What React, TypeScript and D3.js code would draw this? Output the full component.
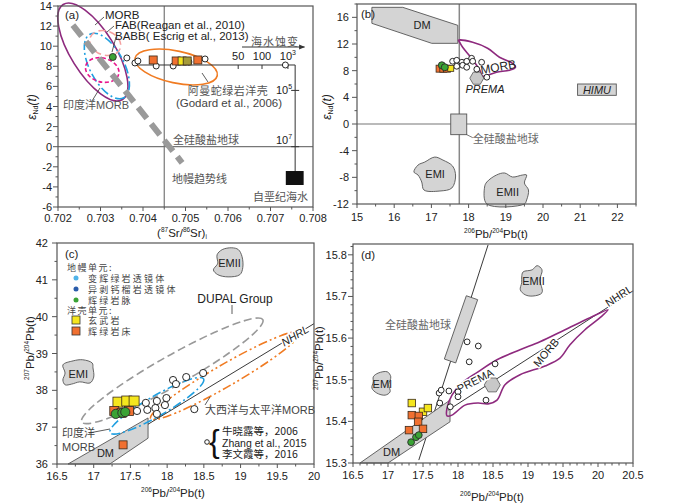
import React from 'react';
import * as d3 from 'd3';

type P = [number, number];

const FONT = 'Arial, "Liberation Sans", Helvetica, sans-serif';
const CJK = '"Noto Sans CJK SC", "Noto Sans", sans-serif';

// ---------- panel (a): eNd(t) vs (87Sr/86Sr)i ----------
const aXTicks = [0.702, 0.703, 0.704, 0.705, 0.706, 0.707, 0.708];
const aYTicks = [-6, -4, -2, 0, 2, 4, 6, 8, 10, 12, 14];
const aCircles: P[] = [[0.70362, 8.83], [0.70381, 8.33], [0.70388, 8.53], [0.70431, 8.03], [0.70471, 8.03], [0.70508, 8.43], [0.70546, 8.73]];
const aOrange: P[] = [[0.70424, 8.63], [0.70478, 8.53], [0.70529, 8.63]];
const aYellow: P[] = [[0.70492, 8.53]];
const aOlive: P[] = [[0.70504, 8.53]];
const aGreen: P[] = [[0.70329, 8.93]];
const aMantleArray: P[] = [[0.70235, 12.1], [0.70492, -1.6]];
const aSeawaterLine: P[] = [[0.7038, 8.13], [0.70758, 8.13], [0.70758, -3.1]];
const aSeaTicksH = [{ v: 0.70624, l: '50' }, { v: 0.7068, l: '100' }, { v: 0.70741, l: '10', s: '3' }];
const aSeaTicksV = [{ v: 5.6, l: '10', s: '5' }, { v: 0, l: '10', s: '7' }];
const aSeaEnd: P = [0.70735, 8.13];
const aCretaceousSw = { x: [0.70736, 0.70778], y: [-2.42, -3.81] };
const aMorbC: P = [0.70282, 9.42];
const aIndianC: P = [0.70315, 8.03];
const aBabbC: P = [0.70304, 7.63];
const aFabC: P = [0.70311, 10.32];
const aOmanC: P = [0.70478, 7.93];

// ---------- panel (b): eNd(t) vs 206Pb/204Pb(t) ----------
const bXTicks = [15, 16, 17, 18, 19, 20, 21, 22];
const bYTicks = [-12, -8, -4, 0, 4, 8, 12, 16];
const bCircles: P[] = [[17.57, 9.41], [17.68, 9.56], [17.82, 9.26], [17.84, 8.81], [17.68, 8.66], [17.95, 9.41], [17.95, 8.51], [18.08, 9.86], [18.11, 9.41], [18.35, 9.26], [18.22, 8.22], [18.49, 7.02]];
const bOrange: P[] = [[17.22, 8.3], [17.32, 8.3], [17.42, 8.3]];
const bYellow: P[] = [[17.52, 8.35]];
const bGreen: P[] = [[17.28, 8.81], [17.36, 8.51]];
const bDM: P[] = [[15.4, 17.5], [16.23, 17.5], [17.71, 14.8], [17.71, 12.1], [17.01, 12.1], [15.4, 15.1]];
const bMorb: P[] = [[17.73, 12.56], [18.11, 12.26], [18.51, 11.36], [18.83, 10.01], [19.18, 9.11], [19.26, 8.51], [19.1, 8.07], [18.75, 7.77], [18.51, 7.32], [18.38, 7.17], [18.3, 8.07], [18.08, 9.86], [17.84, 11.51], [17.76, 12.26]];
const bEMI: P[] = [[16.82, -5.71], [17.09, -4.96], [17.31, -5.41], [17.57, -6.31], [17.65, -7.8], [17.55, -9.6], [17.23, -10.05], [16.8, -9.9], [16.74, -8.7], [16.64, -7.65], [16.53, -7.2], [16.64, -6.16]];
const bEMII: P[] = [[18.75, -7.65], [18.97, -7.35], [19.18, -7.95], [19.45, -7.65], [19.56, -7.65], [19.5, -8.85], [19.61, -9.9], [19.56, -11.4], [19.5, -12], [18.49, -12], [18.43, -9.45], [18.49, -8.7]];
const bPrema: P = [18.22, 6.87];
const bHimu = { x: [20.93, 21.97], y: [4.3, 6.0] };
const bBse = { x: [17.52, 17.95], y: [-1.6, 1.5] };

// ---------- panel (c): 208Pb/204Pb vs 206Pb/204Pb ----------
const cXTicks = [16.5, 17, 17.5, 18, 18.5, 19, 19.5, 20];
const cYTicks = [36, 37, 38, 39, 40, 41, 42];
const cCircles: P[] = [[17.59, 37.44], [17.71, 37.66], [17.73, 37.47], [17.86, 37.71], [17.84, 37.52], [17.86, 37.36], [17.99, 37.79], [17.97, 37.6], [18.08, 38.28], [18.12, 38.17], [18.26, 38.36], [18.49, 38.47], [18.37, 37.49]];
const cYellow: P[] = [[17.33, 37.68], [17.45, 37.71], [17.55, 37.71]];
const cOrange: P[] = [[17.28, 37.44], [17.48, 37.44], [17.38, 37.39], [17.4, 36.52]];
const cGreen: P[] = [[17.3, 37.36], [17.39, 37.39], [17.43, 37.41]];
const cDM: P[] = [[16.65, 36], [17.22, 36], [17.74, 36.7], [17.74, 37.25]];
const cNHRL: P[] = [[17.74, 37.08], [20, 39.81]];
const cEMI: P[] = [[16.58, 38.69], [16.61, 38.47], [16.58, 38.28], [16.61, 38.15], [16.7, 38.17], [16.81, 38.23], [16.95, 38.2], [17.0, 38.36], [16.99, 38.61], [16.98, 38.74], [16.85, 38.83], [16.72, 38.8]];
const cEMII: P[] = [[18.69, 41.46], [18.68, 41.68], [18.75, 41.82], [18.88, 41.87], [18.97, 41.82], [19.02, 41.63], [19.03, 41.33], [18.99, 41.14], [18.83, 41.08], [18.69, 41.14], [18.63, 41.27], [18.68, 41.41]];
const cDupalC: P = [18.07, 38.53];
const cAtlPacC: P = [18.79, 38.4];
const cIndianC: P = [17.86, 37.58];
const cLegendMantle = [{ label: '变辉绿岩透镜体', color: '#4fb3e8' }, { label: '异剥钙榴岩透镜体', color: '#2a5caa' }, { label: '辉绿岩脉', color: '#3aa335' }];
const cLegendCrust = [{ label: '玄武岩', color: '#f5e61e' }, { label: '辉绿岩床', color: '#f07030' }];
const cRefs = ['牛晓露等，2006', 'Zhang et al., 2015', '李文霞等，2016'];

// ---------- panel (d): 207Pb/204Pb vs 206Pb/204Pb ----------
const dXTicks = [16.5, 17, 17.5, 18, 18.5, 19, 19.5, 20, 20.5];
const dYTicks = [15.3, 15.4, 15.5, 15.6, 15.7, 15.8];
const dCircles: P[] = [[18.13, 15.591], [18.29, 15.581], [18.16, 15.543], [17.73, 15.468], [17.76, 15.475], [17.74, 15.444], [17.87, 15.473], [18.0, 15.471], [18.0, 15.459], [17.89, 15.435], [18.4, 15.451], [18.53, 15.538]];
const dYellow: P[] = [[17.34, 15.444], [17.5, 15.423], [17.57, 15.432]];
const dOrange: P[] = [[17.34, 15.415], [17.44, 15.413], [17.43, 15.399], [17.3, 15.379], [17.5, 15.382]];
const dGreen: P[] = [[17.33, 15.35], [17.4, 15.362], [17.44, 15.367]];
const dDM: P[] = [[16.6, 15.3], [17.0, 15.3], [17.886, 15.399], [17.886, 15.451]];
const dNHRL: P[] = [[17.86, 15.427], [20.5, 15.713]];
const dGeochron: P[] = [[18.43, 15.824], [17.44, 15.307]];
const dBseBar: P[] = [[18.2, 15.697], [17.886, 15.545]];
const dMorb: P[] = [[17.843, 15.432], [17.914, 15.463], [18.057, 15.492], [18.286, 15.519], [18.557, 15.548], [18.886, 15.572], [19.171, 15.591], [19.529, 15.62], [19.886, 15.649], [20.143, 15.668], [20.029, 15.649], [19.814, 15.62], [19.6, 15.584], [19.457, 15.552], [19.243, 15.533], [18.886, 15.512], [18.671, 15.488], [18.557, 15.451], [18.429, 15.442], [18.286, 15.444], [18.1, 15.439], [17.914, 15.415], [17.843, 15.413]];
const dEMI: P[] = [[16.79, 15.507], [16.86, 15.516], [16.99, 15.519], [17.04, 15.507], [17.01, 15.488], [17.03, 15.471], [16.96, 15.463], [16.84, 15.468], [16.77, 15.48], [16.79, 15.495]];
const dEMII: P[] = [[18.91, 15.747], [18.93, 15.759], [19.06, 15.764], [19.13, 15.774], [19.2, 15.764], [19.17, 15.74], [19.2, 15.709], [19.07, 15.701], [18.96, 15.704], [18.89, 15.716], [18.91, 15.733]];
const dPrema: P = [18.49, 15.4875];

// scales
const ax = d3.scaleLinear().domain([0.702, 0.708]).range([58, 313]);
const ay = d3.scaleLinear().domain([-6, 14]).range([207, 6]);
const bx = d3.scaleLinear().domain([15, 22.5]).range([357, 636]);
const by = d3.scaleLinear().domain([-12, 18]).range([204, 4]);
const cx = d3.scaleLinear().domain([16.5, 20]).range([57, 314]);
const cy = d3.scaleLinear().domain([36, 42]).range([464, 243]);
const dx = d3.scaleLinear().domain([16.5, 20.5]).range([353, 633]);
const dy = d3.scaleLinear().domain([15.3, 15.826]).range([463, 244]);

const ORANGE = '#f07030';
const YELLOW = '#f5e61e';
const GREEN = '#3aa335';
const PURPLE = '#8e2a7e';
const BLUE = '#1f9fe0';
const FIELD = '#d4d4d4';
const EDGE = '#555';

const minors = (dom: number[], step: number, majors: number[]) =>
  d3.range(dom[0], dom[1] + step / 2, step).filter(v => !majors.some(m => Math.abs(m - v) < step / 10));

function Axes({ x, y, xTicks, yTicks, xStep, yStep, fmtX, fmtY, xdy, ydx }: any) {
  const [x0, x1] = x.range();
  const [y0, y1] = y.range();
  const xm = minors(x.domain(), xStep, xTicks);
  const ym = minors(y.domain(), yStep, yTicks);
  return (
    <g fontFamily={FONT} fontSize={11} fill="#222">
      {xTicks.map((t: number) => (
        <g key={'xt' + t}>
          <line x1={x(t)} x2={x(t)} y1={y0} y2={y0 + 4} stroke={EDGE} />
          <text x={x(t)} y={y0 + xdy} textAnchor="middle">{fmtX(t)}</text>
        </g>
      ))}
      {xm.map((t: number) => <line key={'xm' + t} x1={x(t)} x2={x(t)} y1={y0} y2={y0 + 2.5} stroke={EDGE} />)}
      {yTicks.map((t: number) => (
        <g key={'yt' + t}>
          <line x1={x0 - 5} x2={x0} y1={y(t)} y2={y(t)} stroke={EDGE} />
          <text x={x0 - ydx} y={y(t) + 4} textAnchor="end">{fmtY(t)}</text>
        </g>
      ))}
      {ym.map((t: number) => <line key={'ym' + t} x1={x0 - 2.5} x2={x0} y1={y(t)} y2={y(t)} stroke={EDGE} />)}
      <rect x={x0} y={y1} width={x1 - x0} height={y0 - y1} fill="none" stroke={EDGE} strokeWidth={1.2} />
    </g>
  );
}

const Sq = ({ p, sx, sy, s, fill }: any) => (
  <rect x={sx(p[0]) - s / 2} y={sy(p[1]) - s / 2} width={s} height={s} fill={fill} stroke="#3a2a1a" strokeWidth={0.8} />
);
const Dot = ({ p, sx, sy, r, fill }: any) => (
  <circle cx={sx(p[0])} cy={sy(p[1])} r={r} fill={fill} stroke={fill === '#fff' ? '#111' : '#2a2a2a'} strokeWidth={0.9} />
);

const blob = (pts: P[], sx: any, sy: any) =>
  d3.line<P>().x(p => sx(p[0])).y(p => sy(p[1])).curve(d3.curveCatmullRomClosed.alpha(0.5))(pts) || '';
const poly = (pts: P[], sx: any, sy: any) =>
  d3.line<P>().x(p => sx(p[0])).y(p => sy(p[1])).curve(d3.curveLinearClosed)(pts) || '';
const path = (pts: P[], sx: any, sy: any) =>
  d3.line<P>().x(p => sx(p[0])).y(p => sy(p[1]))(pts) || '';
const hexagon = (c: P, sx: any, sy: any, r: number) => {
  const X = sx(c[0]), Y = sy(c[1]);
  return 'M' + d3.range(6).map(i => [X + r * Math.cos((Math.PI / 3) * i), Y + r * Math.sin((Math.PI / 3) * i)].join(',')).join('L') + 'Z';
};
const Ell = ({ c, sx, sy, rx, ry, angle, ...rest }: any) => {
  const X = sx(c[0]), Y = sy(c[1]);
  return <ellipse cx={X} cy={Y} rx={rx} ry={ry} transform={`rotate(${angle} ${X} ${Y})`} fill="none" {...rest} />;
};

const halo = { paintOrder: 'stroke' as const, stroke: '#fff', strokeWidth: 3, strokeLinejoin: 'round' as const };

function PanelA() {
  const fmt = d3.format('.3f');
  return (
    <g>
      <line x1={ax(0.7045)} x2={ax(0.7045)} y1={ay(14)} y2={ay(-6)} stroke="#777" strokeWidth={1.2} />
      <line x1={ax(0.702)} x2={ax(0.708)} y1={ay(0)} y2={ay(0)} stroke="#777" strokeWidth={1.2} />
      <Ell c={aMorbC} sx={ax} sy={ay} rx={56} ry={22} angle={58} stroke={PURPLE} strokeWidth={1.6} />
      <Ell c={aIndianC} sx={ax} sy={ay} rx={36} ry={17} angle={62} stroke={BLUE} strokeWidth={1.6} strokeDasharray="9,3,2,3" />
      <Ell c={aBabbC} sx={ax} sy={ay} rx={17} ry={12} angle={15} stroke="#e8158c" strokeWidth={1.6} strokeDasharray="4,2.5" />
      <Ell c={aFabC} sx={ax} sy={ay} rx={16} ry={12} angle={20} stroke="#f4a0a0" strokeWidth={1.6} strokeDasharray="7,4" />
      <path d={path(aMantleArray, ax, ay)} stroke="#9a9a9a" strokeWidth={6} strokeDasharray="14,7" fill="none" />
      <Ell c={aOmanC} sx={ax} sy={ay} rx={42} ry={16} angle={12} stroke="#f07b22" strokeWidth={1.6} />
      {/* seawater alteration trend */}
      <path d={path(aSeawaterLine, ax, ay)} stroke="#333" strokeWidth={1} fill="none" />
      {aSeaTicksH.map(t => (
        <g key={t.l + (t.s || '')}>
          <line x1={ax(t.v)} x2={ax(t.v)} y1={ay(8.13)} y2={ay(8.13) + 4} stroke="#333" />
          <text x={ax(t.v)} y={ay(8.13) - 5} textAnchor="middle" fontFamily={FONT} fontSize={11} fill="#222">
            {t.l}{t.s && <tspan fontSize={7} dy={-5}>{t.s}</tspan>}
          </text>
        </g>
      ))}
      {aSeaTicksV.map(t => (
        <g key={'v' + t.s}>
          <line x1={ax(0.70758) - 4} x2={ax(0.70758) + 4} y1={ay(t.v)} y2={ay(t.v)} stroke="#333" />
          <text x={ax(0.70758) - 3} y={ay(t.v) + (t.v === 0 ? -3 : 4)} textAnchor="end" fontFamily={FONT} fontSize={11} fill="#222">
            {t.l}<tspan fontSize={7} dy={-5}>{t.s}</tspan>
          </text>
        </g>
      ))}
      <Dot p={aSeaEnd} sx={ax} sy={ay} r={3} fill="#fff" />
      <rect x={ax(aCretaceousSw.x[0])} y={ay(aCretaceousSw.y[0])} width={ax(aCretaceousSw.x[1]) - ax(aCretaceousSw.x[0])} height={ay(aCretaceousSw.y[1]) - ay(aCretaceousSw.y[0])} fill="#111" />
      {/* arrow */}
      <defs>
        <marker id="arr" viewBox="0 0 10 10" refX="9" refY="5" markerWidth="6" markerHeight="6" orient="auto">
          <path d="M0,1 L10,5 L0,9 Z" fill="#333" />
        </marker>
      </defs>
      <line x1={ax(0.70633)} x2={ax(0.7078)} y1={ay(9.92)} y2={ay(9.92)} stroke="#333" markerEnd="url(#arr)" />
      <text x={275} y={46} textAnchor="middle" fontFamily={CJK} fontSize={11} fill="#555" letterSpacing={1}>海水蚀变</text>
      {aCircles.map((p, i) => <Dot key={'ac' + i} p={p} sx={ax} sy={ay} r={3} fill="#fff" />)}
      {aOrange.map((p, i) => <Sq key={'ao' + i} p={p} sx={ax} sy={ay} s={8} fill={ORANGE} />)}
      {aYellow.map((p, i) => <Sq key={'ay' + i} p={p} sx={ax} sy={ay} s={8} fill={YELLOW} />)}
      {aOlive.map((p, i) => <Sq key={'al' + i} p={p} sx={ax} sy={ay} s={8} fill="#a59a3a" />)}
      {aGreen.map((p, i) => <Dot key={'ag' + i} p={p} sx={ax} sy={ay} r={3.5} fill={GREEN} />)}
      {/* labels */}
      <g fontFamily={FONT} fontSize={11.5} fill="#222">
        <text x={65} y={19}>(a)</text>
        <text x={105} y={19}>MORB</text>
        <text x={115} y={29}>FAB(Reagan et al., 2010)</text>
        <text x={115} y={40}>BABB( Escrig et al., 2013)</text>
        <text x={229} y={107} textAnchor="middle" fill="#444">(Godard et al., 2006)</text>
      </g>
      <g stroke="#333" strokeWidth={0.8}>
        <line x1={104} y1={17} x2={95} y2={25} />
        <line x1={114} y1={26} x2={107} y2={32} />
        <line x1={116} y1={37} x2={112} y2={52} />
        <line x1={92} y1={101} x2={100} y2={88} />
        <line x1={202} y1={73} x2={208} y2={82} />
      </g>
      <g fontFamily={CJK} fontSize={11} fill="#555">
        <text x={63} y={109}>印度洋<tspan fontFamily={FONT}>MORB</tspan></text>
        <text x={228} y={95} textAnchor="middle" letterSpacing={0.5}>阿曼蛇绿岩洋壳</text>
        <text x={173} y={144}>全硅酸盐地球</text>
        <text x={172} y={183}>地幔趋势线</text>
        <text x={308} y={201} textAnchor="end">自垩纪海水</text>
      </g>
      <Axes x={ax} y={ay} xTicks={aXTicks} yTicks={aYTicks} xStep={0.0005} yStep={1} fmtX={fmt} fmtY={(v: number) => String(v)} xdy={15} ydx={6} />
      <text x={182} y={237} textAnchor="middle" fontFamily={FONT} fontSize={11.5} fill="#222">
        (<tspan fontSize={6.5} dy={-5}>87</tspan><tspan dy={5}>Sr/</tspan><tspan fontSize={6.5} dy={-5}>86</tspan><tspan dy={5}>Sr)</tspan><tspan fontSize={6.5} dy={2}>i</tspan>
      </text>
      <text transform="translate(36,107) rotate(-90)" textAnchor="middle" fontFamily={FONT} fontSize={12} fill="#222" fontStyle="italic">
        ε<tspan fontSize={7} dy={2} fontStyle="normal">Nd</tspan><tspan dy={-2}>(t)</tspan>
      </text>
    </g>
  );
}

function PanelB() {
  return (
    <g>
      <line x1={bx(17.75)} x2={bx(17.75)} y1={by(18)} y2={by(-12)} stroke="#888" strokeWidth={1.5} />
      <line x1={bx(15)} x2={bx(22.5)} y1={by(0)} y2={by(0)} stroke="#777" strokeWidth={1.2} />
      <path d={poly(bDM, bx, by)} fill={FIELD} stroke={EDGE} strokeWidth={0.9} />
      <text x={bx(16.75)} y={by(14.8) + 4} textAnchor="middle" fontFamily={FONT} fontSize={11} fill="#222">DM</text>
      <path d={blob(bMorb, bx, by)} fill="none" stroke={PURPLE} strokeWidth={1.6} />
      <path d={hexagon(bPrema, bx, by, 7)} fill="#c8c8c8" stroke={EDGE} strokeWidth={0.8} />
      <rect x={bx(bBse.x[0])} y={by(bBse.y[1])} width={bx(bBse.x[1]) - bx(bBse.x[0])} height={by(bBse.y[0]) - by(bBse.y[1])} fill={FIELD} stroke={EDGE} strokeWidth={0.9} />
      <line x1={bx(bBse.x[1])} y1={by(bBse.y[0])} x2={bx(bBse.x[1]) + 6} y2={by(bBse.y[0]) + 3} stroke="#555" strokeWidth={0.8} />
      <text x={bx(bBse.x[1]) + 6} y={by(bBse.y[0]) + 8} fontFamily={CJK} fontSize={11} fill="#666">全硅酸盐地球</text>
      <rect x={bx(bHimu.x[0])} y={by(bHimu.y[1])} width={bx(bHimu.x[1]) - bx(bHimu.x[0])} height={by(bHimu.y[0]) - by(bHimu.y[1])} fill={FIELD} stroke={EDGE} strokeWidth={0.9} />
      <text x={(bx(bHimu.x[0]) + bx(bHimu.x[1])) / 2} y={by(5.15) + 4} textAnchor="middle" fontFamily={FONT} fontSize={11} fontStyle="italic" fill="#222">HIMU</text>
      <path d={blob(bEMI, bx, by)} fill={FIELD} stroke={EDGE} strokeWidth={0.9} />
      <text x={bx(17.1)} y={by(-7.5) + 4} textAnchor="middle" fontFamily={FONT} fontSize={11} fill="#222">EMI</text>
      <path d={blob(bEMII, bx, by)} fill={FIELD} stroke={EDGE} strokeWidth={0.9} />
      <text x={bx(19.05)} y={by(-10.2) + 4} textAnchor="middle" fontFamily={FONT} fontSize={11} fill="#222">EMII</text>
      {bCircles.map((p, i) => <Dot key={'bc' + i} p={p} sx={bx} sy={by} r={2.9} fill="#fff" />)}
      {bOrange.map((p, i) => <Sq key={'bo' + i} p={p} sx={bx} sy={by} s={7} fill={ORANGE} />)}
      {bYellow.map((p, i) => <Sq key={'by' + i} p={p} sx={bx} sy={by} s={6} fill={YELLOW} />)}
      {bGreen.map((p, i) => <Dot key={'bg' + i} p={p} sx={bx} sy={by} r={3.5} fill={GREEN} />)}
      <text transform={`translate(499,71) rotate(-10)`} textAnchor="middle" fontFamily={FONT} fontSize={12} fill="#222">MORB</text>
      <text x={485} y={93} textAnchor="middle" fontFamily={FONT} fontSize={11} fontStyle="italic" fill="#222">PREMA</text>
      <text x={361} y={18} fontFamily={FONT} fontSize={11.5} fill="#222">(b)</text>
      <Axes x={bx} y={by} xTicks={bXTicks} yTicks={bYTicks} xStep={0.5} yStep={2} fmtX={(v: number) => String(v)} fmtY={(v: number) => String(v)} xdy={17} ydx={8} />
      <text x={496} y={238} textAnchor="middle" fontFamily={FONT} fontSize={11.5} fill="#222">
        <tspan fontSize={6.5} dy={-5}>206</tspan><tspan dy={5}>Pb/</tspan><tspan fontSize={6.5} dy={-5}>204</tspan><tspan dy={5}>Pb(t)</tspan>
      </text>
      <text transform="translate(331,107) rotate(-90)" textAnchor="middle" fontFamily={FONT} fontSize={12} fill="#222" fontStyle="italic">
        ε<tspan fontSize={7} dy={2} fontStyle="normal">Nd</tspan><tspan dy={-2}>(t)</tspan>
      </text>
    </g>
  );
}

function PanelC() {
  const y0 = 267;
  return (
    <g>
      <path d={blob(cEMI, cx, cy)} fill={FIELD} stroke={EDGE} strokeWidth={0.9} />
      <text x={cx(16.79)} y={cy(38.45) + 4} textAnchor="middle" fontFamily={FONT} fontSize={11} fill="#222">EMI</text>
      <path d={blob(cEMII, cx, cy)} fill={FIELD} stroke={EDGE} strokeWidth={0.9} />
      <text x={cx(18.85)} y={cy(41.45) + 4} textAnchor="middle" fontFamily={FONT} fontSize={11} fill="#222">EMII</text>
      <path d={poly(cDM, cx, cy)} fill={FIELD} stroke={EDGE} strokeWidth={0.9} />
      <text x={cx(17.16)} y={cy(36.3) + 4} textAnchor="middle" fontFamily={FONT} fontSize={11} fill="#222">DM</text>
      <Ell c={cDupalC} sx={cx} sy={cy} rx={104} ry={15} angle={-29.5} stroke="#999" strokeWidth={1.6} strokeDasharray="8,4" />
      <Ell c={cAtlPacC} sx={cx} sy={cy} rx={86} ry={11} angle={-30} stroke="#f07b22" strokeWidth={1.6} strokeDasharray="9,3,2,3,2,3" />
      <Ell c={cIndianC} sx={cx} sy={cy} rx={54} ry={10} angle={-30} stroke={BLUE} strokeWidth={1.6} strokeDasharray="9,3,2,3" />
      <path d={path(cNHRL, cx, cy)} stroke="#222" strokeWidth={0.9} fill="none" />
      <text transform="translate(297,339) rotate(-31)" textAnchor="middle" fontFamily={FONT} fontSize={11} fontStyle="italic" fill="#222" style={halo}>NHRL</text>
      {cCircles.map((p, i) => <Dot key={'cc' + i} p={p} sx={cx} sy={cy} r={3.6} fill="#fff" />)}
      {cYellow.map((p, i) => <Sq key={'cy' + i} p={p} sx={cx} sy={cy} s={10} fill={YELLOW} />)}
      {cOrange.map((p, i) => <Sq key={'co' + i} p={p} sx={cx} sy={cy} s={i === 3 ? 8 : 9} fill={ORANGE} />)}
      {cGreen.map((p, i) => <Dot key={'cg' + i} p={p} sx={cx} sy={cy} r={4.6} fill={GREEN} />)}
      {/* legend */}
      <g fontFamily={CJK} fontSize={9} fill="#444">
        <text x={65} y={258} fontFamily={FONT} fontSize={11.5} fill="#222">(c)</text>
        <text x={67} y={y0 + 3.5} letterSpacing={1.5}>地幔单元:</text>
        {cLegendMantle.map((d, i) => (
          <g key={d.label}>
            <circle cx={76} cy={y0 + 11 * (i + 1)} r={2.5} fill={d.color} />
            <text x={88} y={y0 + 11 * (i + 1) + 3.5} letterSpacing={2.2}>{d.label}</text>
          </g>
        ))}
        <text x={67} y={313.5} letterSpacing={1.5}>洋壳单元:</text>
        {cLegendCrust.map((d, i) => (
          <g key={d.label}>
            <rect x={72} y={316 + 11 * i} width={8} height={8} fill={d.color} stroke="#333" strokeWidth={0.8} />
            <text x={88} y={323.5 + 11 * i} letterSpacing={2.2}>{d.label}</text>
          </g>
        ))}
      </g>
      <g fontFamily={CJK} fontSize={11} fill="#444">
        <text x={62} y={437}>印度洋</text>
        <text x={62} y={451} fontFamily={FONT}>MORB</text>
        <text x={205} y={414}>大西洋与太平洋<tspan fontFamily={FONT}>MORB</tspan></text>
      </g>
      <g stroke="#333" strokeWidth={0.8}>
        <line x1={89} y1={433} x2={110} y2={429} />
        <line x1={205} y1={405} x2={210} y2={397} />
        <line x1={232} y1={305} x2={232} y2={314} />
      </g>
      <text x={235} y={303} textAnchor="middle" fontFamily={FONT} fontSize={12} fill="#222">DUPAL Group</text>
      <circle cx={207} cy={442} r={2.3} fill="#fff" stroke="#111" strokeWidth={0.9} />
      <text x={209} y={452} fontFamily={FONT} fontSize={32} fill="#111">{'{'}</text>
      {cRefs.map((r, i) => (
        <text key={r} x={222} y={435 + 11.5 * i} fontFamily={i === 1 ? FONT : CJK} fontSize={10.5} fill="#222">{r}</text>
      ))}
      <Axes x={cx} y={cy} xTicks={cXTicks} yTicks={cYTicks} xStep={0.25} yStep={0.5} fmtX={(v: number) => String(v)} fmtY={(v: number) => String(v)} xdy={16} ydx={9} />
      <text x={173} y={497} textAnchor="middle" fontFamily={FONT} fontSize={11.5} fill="#222">
        <tspan fontSize={6.5} dy={-5}>206</tspan><tspan dy={5}>Pb/</tspan><tspan fontSize={6.5} dy={-5}>204</tspan><tspan dy={5}>Pb(t)</tspan>
      </text>
      <text transform="translate(34,348) rotate(-90)" textAnchor="middle" fontFamily={FONT} fontSize={11.5} fill="#222">
        <tspan fontSize={6.5} dy={-5}>207</tspan><tspan dy={5}>Pb/</tspan><tspan fontSize={6.5} dy={-5}>204</tspan><tspan dy={5}>Pb(t)</tspan>
      </text>
    </g>
  );
}

function PanelD() {
  const [p0, p1] = dBseBar.map(p => [dx(p[0]), dy(p[1])]);
  const len = Math.hypot(p1[0] - p0[0], p1[1] - p0[1]);
  const nx = -(p1[1] - p0[1]) / len * 6, ny = (p1[0] - p0[0]) / len * 6;
  const bar = `M${p0[0] + nx},${p0[1] + ny}L${p1[0] + nx},${p1[1] + ny}L${p1[0] - nx},${p1[1] - ny}L${p0[0] - nx},${p0[1] - ny}Z`;
  return (
    <g>
      <path d={path(dGeochron, dx, dy)} stroke="#222" strokeWidth={0.9} fill="none" />
      <path d={bar} fill={FIELD} stroke={EDGE} strokeWidth={0.9} />
      <text x={451} y={329} textAnchor="end" fontFamily={CJK} fontSize={11} fill="#666">全硅酸盐地球</text>
      <path d={poly(dDM, dx, dy)} fill={FIELD} stroke={EDGE} strokeWidth={0.9} />
      <text x={dx(17.05)} y={dy(15.327) + 4} textAnchor="middle" fontFamily={FONT} fontSize={11} fill="#222">DM</text>
      <path d={blob(dEMI, dx, dy)} fill={FIELD} stroke={EDGE} strokeWidth={0.9} />
      <text x={dx(16.92)} y={dy(15.49) + 4} textAnchor="middle" fontFamily={FONT} fontSize={11} fill="#222">EMI</text>
      <path d={blob(dEMII, dx, dy)} fill={FIELD} stroke={EDGE} strokeWidth={0.9} />
      <text x={dx(19.08)} y={dy(15.738) + 4} textAnchor="middle" fontFamily={FONT} fontSize={11} fill="#222">EMII</text>
      <path d={path(dNHRL, dx, dy)} stroke="#222" strokeWidth={0.9} fill="none" />
      <path d={blob(dMorb, dx, dy)} fill="none" stroke={PURPLE} strokeWidth={1.6} />
      <path d={hexagon(dPrema, dx, dy, 8)} fill="#c8c8c8" stroke={EDGE} strokeWidth={0.8} />
      <text transform="translate(477,384) rotate(-27)" textAnchor="middle" fontFamily={FONT} fontSize={11} fill="#222" style={halo}>PREMA</text>
      <text transform="translate(549,355) rotate(-50)" textAnchor="middle" fontFamily={FONT} fontSize={11} fill="#222" style={halo}>MORB</text>
      <text transform="translate(621,299) rotate(-33)" textAnchor="middle" fontFamily={FONT} fontSize={11} fill="#222" style={halo}>NHRL</text>
      {dCircles.map((p, i) => <Dot key={'dc' + i} p={p} sx={dx} sy={dy} r={2.9} fill="#fff" />)}
      {dYellow.map((p, i) => <Sq key={'dy' + i} p={p} sx={dx} sy={dy} s={7.5} fill={YELLOW} />)}
      {dOrange.map((p, i) => <Sq key={'do' + i} p={p} sx={dx} sy={dy} s={7.5} fill={ORANGE} />)}
      {dGreen.map((p, i) => <Dot key={'dg' + i} p={p} sx={dx} sy={dy} r={3.4} fill={GREEN} />)}
      <text x={361} y={259} fontFamily={FONT} fontSize={11.5} fill="#222">(d)</text>
      <Axes x={dx} y={dy} xTicks={dXTicks} yTicks={dYTicks} xStep={0.1} yStep={0.02} fmtX={(v: number) => String(v)} fmtY={(v: number) => v.toFixed(1)} xdy={16} ydx={6} />
      <text x={492} y={501} textAnchor="middle" fontFamily={FONT} fontSize={11.5} fill="#222">
        <tspan fontSize={6.5} dy={-5}>206</tspan><tspan dy={5}>Pb/</tspan><tspan fontSize={6.5} dy={-5}>204</tspan><tspan dy={5}>Pb(t)</tspan>
      </text>
      <text transform="translate(323,358) rotate(-90)" textAnchor="middle" fontFamily={FONT} fontSize={11.5} fill="#222">
        <tspan fontSize={6.5} dy={-5}>207</tspan><tspan dy={5}>Pb/</tspan><tspan fontSize={6.5} dy={-5}>204</tspan><tspan dy={5}>Pb(t)</tspan>
      </text>
    </g>
  );
}

export default function App() {
  return (
    <svg width={700} height={504} style={{ position: 'absolute', left: 0, top: 0, background: '#fff' }}>
      <rect width={700} height={504} fill="#fff" />
      <PanelA />
      <PanelB />
      <PanelC />
      <PanelD />
    </svg>
  );
}
